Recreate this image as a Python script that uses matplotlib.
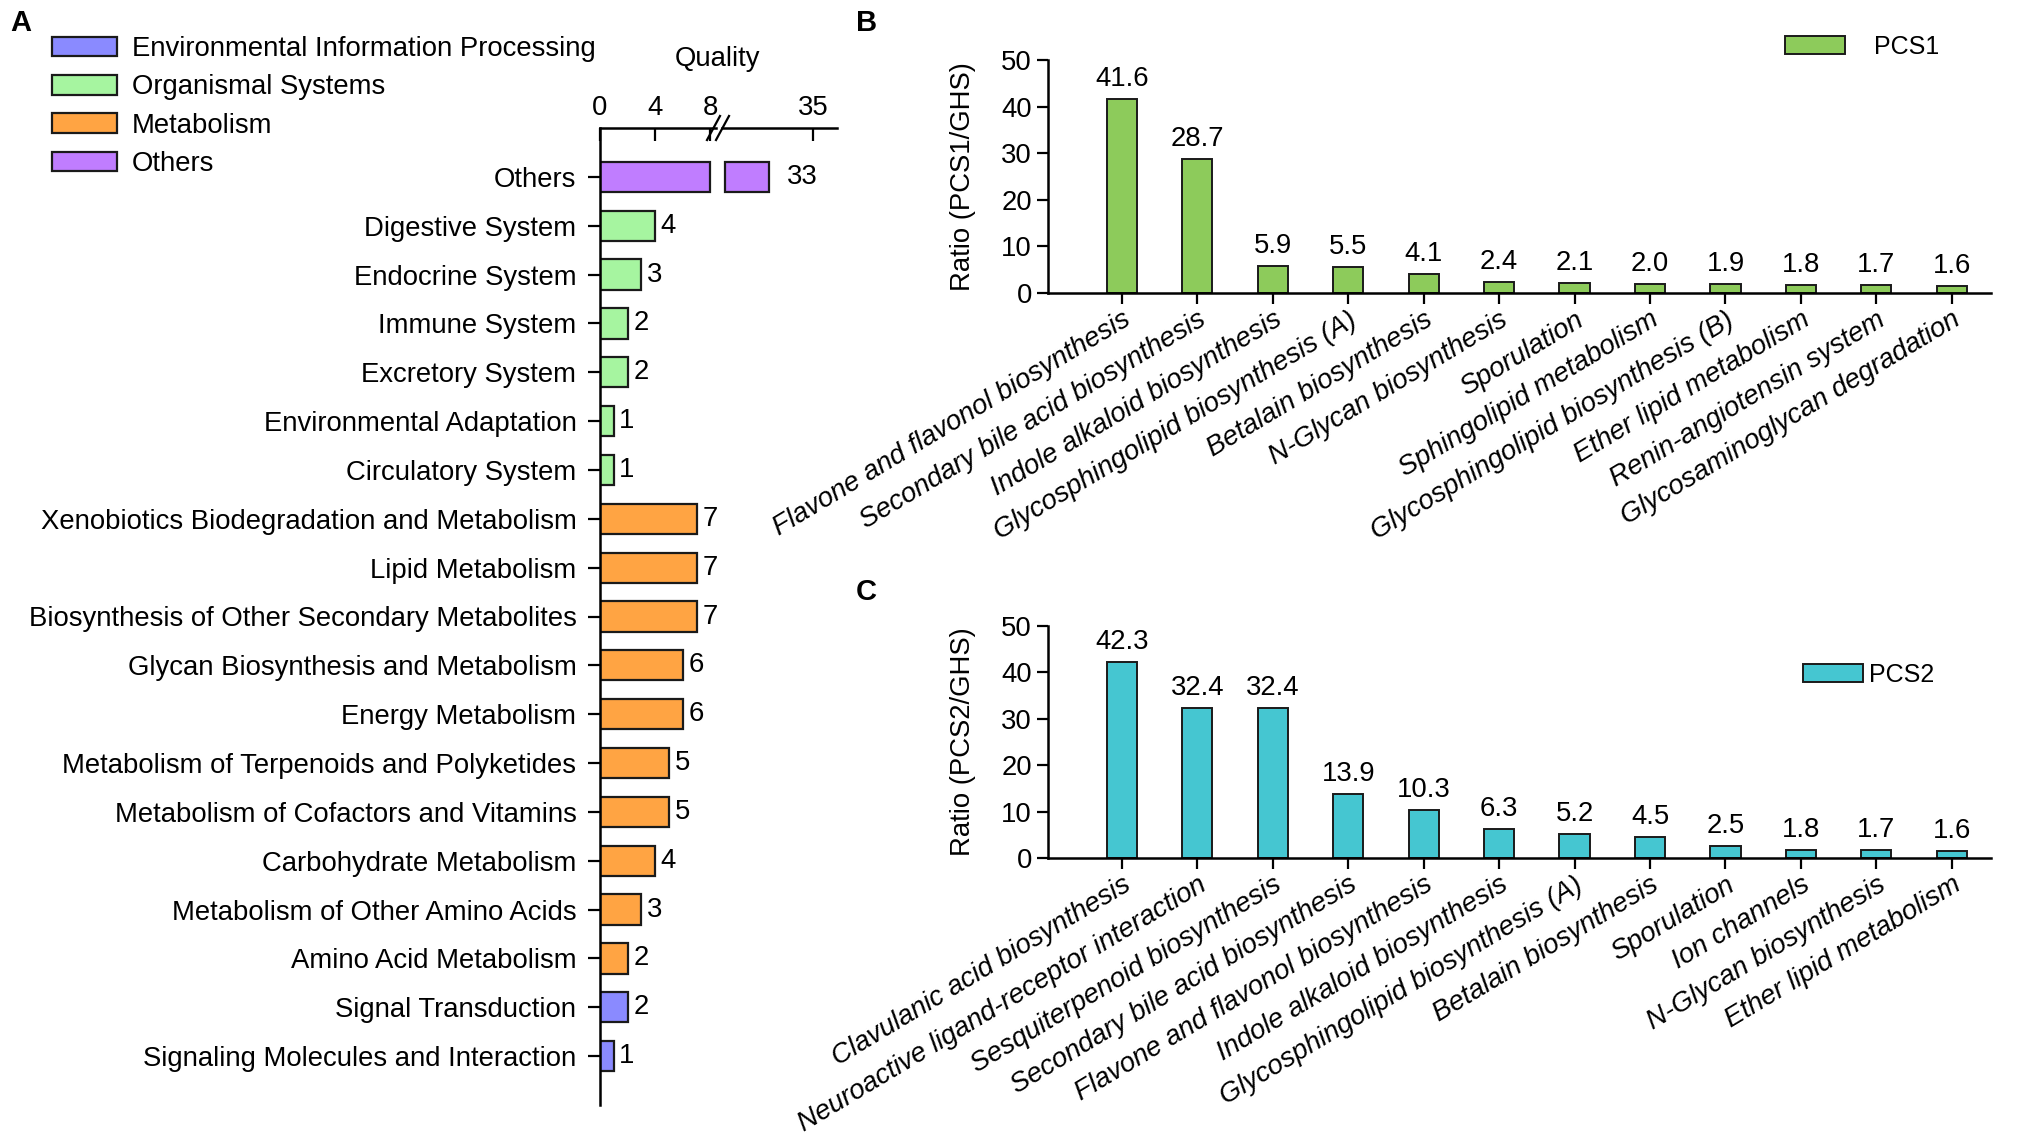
import numpy as np
import matplotlib
matplotlib.use('Agg')
import matplotlib.pyplot as plt
from matplotlib.patches import Patch
from matplotlib.lines import Line2D

plt.rcParams['font.family'] = ['Liberation Sans', 'DejaVu Sans']

# ---- panel A data
cats_a = ['Others', 'Digestive System', 'Endocrine System', 'Immune System',
          'Excretory System', 'Environmental Adaptation', 'Circulatory System',
          'Xenobiotics Biodegradation and Metabolism', 'Lipid Metabolism',
          'Biosynthesis of Other Secondary Metabolites',
          'Glycan Biosynthesis and Metabolism', 'Energy Metabolism',
          'Metabolism of Terpenoids and Polyketides',
          'Metabolism of Cofactors and Vitamins', 'Carbohydrate Metabolism',
          'Metabolism of Other Amino Acids', 'Amino Acid Metabolism',
          'Signal Transduction', 'Signaling Molecules and Interaction']
vals_a = [33, 4, 3, 2, 2, 1, 1, 7, 7, 7, 6, 6, 5, 5, 4, 3, 2, 2, 1]
groups_a = ['Others'] + ['Organismal Systems'] * 6 + ['Metabolism'] * 10 + \
           ['Environmental Information Processing'] * 2
group_order = ['Environmental Information Processing', 'Organismal Systems',
               'Metabolism', 'Others']
group_colors = {'Environmental Information Processing': '#8a8aff',
                'Organismal Systems': '#a6f5a0',
                'Metabolism': '#ffa443',
                'Others': '#c07dff'}
break_lo, break_hi = 8, 31

# ---- panel B data
cats_b = ['Flavone and flavonol biosynthesis', 'Secondary bile acid biosynthesis',
          'Indole alkaloid biosynthesis', 'Glycosphingolipid biosynthesis (A)',
          'Betalain biosynthesis', 'N-Glycan biosynthesis', 'Sporulation',
          'Sphingolipid metabolism', 'Glycosphingolipid biosynthesis (B)',
          'Ether lipid metabolism', 'Renin-angiotensin system',
          'Glycosaminoglycan degradation']
vals_b = [41.6, 28.7, 5.9, 5.5, 4.1, 2.4, 2.1, 2.0, 1.9, 1.8, 1.7, 1.6]

# ---- panel C data
cats_c = ['Clavulanic acid biosynthesis', 'Neuroactive ligand-receptor interaction',
          'Sesquiterpenoid biosynthesis', 'Secondary bile acid biosynthesis',
          'Flavone and flavonol biosynthesis', 'Indole alkaloid biosynthesis',
          'Glycosphingolipid biosynthesis (A)', 'Betalain biosynthesis',
          'Sporulation', 'Ion channels', 'N-Glycan biosynthesis',
          'Ether lipid metabolism']
vals_c = [42.3, 32.4, 32.4, 13.9, 10.3, 6.3, 5.2, 4.5, 2.5, 1.8, 1.7, 1.6]

W, H = 2033, 1133
FS = 19.8
EDGE = '#1a1a1a'
fig = plt.figure(figsize=(W / 100, H / 100), dpi=100)


def px_axes(x0, y0, x1, y1):
    return fig.add_axes([x0 / W, 1 - y1 / H, (x1 - x0) / W, (y1 - y0) / H])


# ================= panel A (broken x axis)
ya = np.arange(len(cats_a))
cols_a = [group_colors[g] for g in groups_a]
ax1 = px_axes(600, 128, 716, 1105)
ax2 = px_axes(722, 128, 837, 1105)

ax1.barh(ya, np.minimum(vals_a, break_lo), height=0.62, color=cols_a,
         edgecolor=EDGE, linewidth=1.6)
big = [i for i, v in enumerate(vals_a) if v > break_hi]
ax2.barh(ya[big], [vals_a[i] - break_hi for i in big], left=break_hi,
         height=0.62, color=[cols_a[i] for i in big], edgecolor=EDGE, linewidth=1.6)

ax1.set_xlim(0, 8.4)
ax2.set_xlim(30.85, 36.1)
for ax in (ax1, ax2):
    ax.set_ylim(len(cats_a), -1.0)
    ax.xaxis.tick_top()
    ax.tick_params(axis='x', direction='in', length=9, width=1.6,
                   labelsize=FS, pad=5)
    ax.spines['bottom'].set_visible(False)
    ax.spines['right'].set_visible(False)
    ax.spines['top'].set_linewidth(1.8)
ax1.spines['left'].set_linewidth(1.8)
ax2.spines['left'].set_visible(False)
ax1.set_xticks([0, 4, 8])
ax2.set_xticks([35])
ax2.set_yticks([])
ax1.set_yticks(ya)
ax1.set_yticklabels(cats_a, fontsize=FS)
ax1.tick_params(axis='y', direction='out', length=9, width=1.6, pad=8)

for i, v in enumerate(vals_a):
    if v > break_hi:
        ax2.annotate(str(v), (v, i), xytext=(13, 0), textcoords='offset points',
                     va='center', ha='left', fontsize=FS)
    else:
        ax1.annotate(str(v), (v, i), xytext=(4, 0), textcoords='offset points',
                     va='center', ha='left', fontsize=FS)

# break marks
for dx in (0, 9):
    fig.add_artist(Line2D([(707 + dx) / W, (720 + dx) / W],
                          [1 - 140 / H, 1 - 116 / H], color='black', lw=1.6))
fig.text(718 / W, 1 - 59 / H, 'Quality', ha='center', va='center', fontsize=FS)

handles = [Patch(facecolor=group_colors[g], edgecolor=EDGE, linewidth=1.6, label=g)
           for g in group_order]
fig.legend(handles=handles, loc='upper left', bbox_to_anchor=(52 / W, 1 - 36 / H),
           frameon=False, fontsize=FS, handlelength=2.35, handleheight=0.72,
           handletextpad=0.55, labelspacing=0.45, borderaxespad=0, borderpad=0)


# ================= panels B and C
def ratio_panel(ax, cats, vals, color, name):
    x = np.arange(len(cats))
    ax.bar(x, vals, width=0.4, color=color, edgecolor=EDGE, linewidth=1.4, label=name)
    for xi, v in zip(x, vals):
        ax.annotate('%.1f' % v, (xi, v), xytext=(0, 5), textcoords='offset points',
                    ha='center', va='bottom', fontsize=FS)
    ax.set_xlim(-0.98, len(cats) - 0.48)
    ax.set_ylim(0, 50)
    ax.set_yticks([0, 10, 20, 30, 40, 50])
    ax.set_xticks(x)
    ax.set_xticklabels(cats, rotation=31, ha='right', rotation_mode='anchor',
                       fontstyle='italic', fontsize=FS)
    ax.tick_params(axis='both', direction='out', length=8, width=1.6, labelsize=FS)
    ax.tick_params(axis='x', pad=2)
    for s in ('top', 'right'):
        ax.spines[s].set_visible(False)
    for s in ('left', 'bottom'):
        ax.spines[s].set_linewidth(1.8)
    ax.set_ylabel('Ratio (%s/GHS)' % name, fontsize=FS, labelpad=18)


axb = px_axes(1048, 60, 1991, 293)
ratio_panel(axb, cats_b, vals_b, '#8dcb5b', 'PCS1')
axb.legend(loc='upper left', bbox_to_anchor=(1785 / W, 1 - 35 / H),
           bbox_transform=fig.transFigure, frameon=False, fontsize=18,
           handlelength=2.4, handleheight=0.75, handletextpad=1.15,
           borderaxespad=0, borderpad=0)

axc = px_axes(1048, 626, 1991, 858)
ratio_panel(axc, cats_c, vals_c, '#45c6d1', 'PCS2')
axc.legend(loc='upper left', bbox_to_anchor=(1803 / W, 1 - 663 / H),
           bbox_transform=fig.transFigure, frameon=False, fontsize=18,
           handlelength=2.4, handleheight=0.75, handletextpad=0.25,
           borderaxespad=0, borderpad=0)

for letter, (lx, ly) in {'A': (10, 23), 'B': (856, 23), 'C': (856, 592)}.items():
    fig.text(lx / W, 1 - ly / H, letter, fontsize=21, fontweight='bold',
             ha='left', va='center')

fig.savefig('out.png', dpi=100)
